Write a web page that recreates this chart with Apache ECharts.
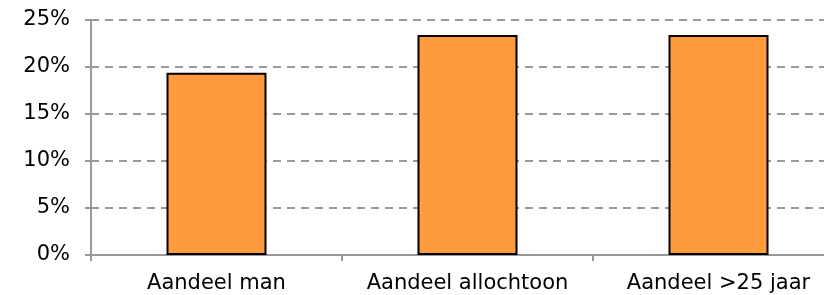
<!DOCTYPE html>
<html>
<head>
<meta charset="utf-8">
<script src="https://cdn.jsdelivr.net/npm/echarts@6/dist/echarts.min.js"></script>
<style>
	html, body { margin: 0; padding: 0; background: #fff; overflow: hidden; }
	/* plot runs past the right edge, as in the reference */
	#chart { width: 844px; height: 295px; }
</style>
</head>
<body>
<div id="chart"></div>
<script>
	// gegevens
	var categories = ['Aandeel man', 'Aandeel allochtoon', 'Aandeel >25 jaar'];
	var shares = [19.4, 23.4, 23.4];
	var yTicks = [0, 5, 10, 15, 20, 25];

	var chart = echarts.init(document.getElementById('chart'));
	var option = {
		animation: false,
		grid: {
			left: 91,
			right: 0,
			top: 20,
			bottom: 40
		},
		xAxis: {
			type: 'category',
			data: categories,
			axisLine: { lineStyle: { color: '#999', width: 2 } },
			axisTick: { show: true, interval: 0, length: 6, lineStyle: { color: '#999', width: 2 } },
			axisLabel: {
				interval: 0,
				hideOverlap: false,
				color: '#000',
				fontFamily: 'DejaVu Sans',
				fontSize: 21,
				margin: 18
			}
		},
		yAxis: {
			type: 'value',
			min: yTicks[0],
			max: yTicks[yTicks.length - 1],
			interval: 5,
			axisLine: { show: true, lineStyle: { color: '#999', width: 2 } },
			axisTick: { show: true, length: 6, lineStyle: { color: '#999', width: 2 } },
			axisLabel: {
				color: '#000',
				fontFamily: 'DejaVu Sans',
				fontSize: 21,
				margin: 21,
				formatter: '{value}%'
			},
			splitLine: {
				show: true,
				lineStyle: { color: '#999', type: [8, 6], width: 2 }
			}
		},
		series: [{
			type: 'bar',
			data: shares,
			barWidth: 100,
			itemStyle: {
				color: '#FF9A3E',
				borderColor: '#000',
				borderWidth: 2
			}
		}]
	};
	chart.setOption(option);
</script>
</body>
</html>
